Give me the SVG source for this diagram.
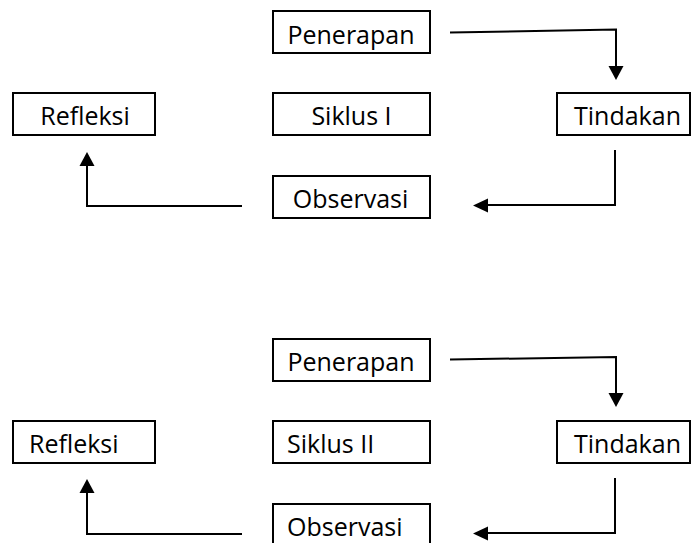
<svg xmlns="http://www.w3.org/2000/svg" width="691" height="543" viewBox="0 0 691 543">
<style>
.box{fill:#fff;stroke:#000;stroke-width:2}
.lbl{font-family:"Open Sans","Noto Sans",sans-serif;font-size:25px;fill:#000}
.c{text-anchor:middle}
.ln{fill:none;stroke:#000;stroke-width:2}
.ah{fill:#000}
</style>
<rect width="691" height="543" fill="#fff"/>
<g id="cycle1">
<g id="penerapan1"><rect class="box" x="273" y="11" width="157" height="42"/><text class="lbl c" x="351" y="44">Penerapan</text></g>
<g id="refleksi1"><rect class="box" x="13" y="93" width="142" height="42"/><text class="lbl c" x="85" y="125">Refleksi</text></g>
<g id="siklus1"><rect class="box" x="273" y="93" width="157" height="42"/><text class="lbl c" x="351.5" y="125">Siklus I</text></g>
<g id="tindakan1"><rect class="box" x="557" y="93" width="133" height="42"/><text class="lbl c" x="627.5" y="125">Tindakan</text></g>
<g id="observasi1"><rect class="box" x="273" y="176" width="157" height="42"/><text class="lbl c" x="350.5" y="208">Observasi</text></g>
</g>
<g id="cycle2">
<g id="penerapan2"><rect class="box" x="273" y="339" width="157" height="42"/><text class="lbl c" x="351" y="371">Penerapan</text></g>
<g id="refleksi2"><rect class="box" x="13" y="421" width="142" height="42"/><text class="lbl" x="29" y="453">Refleksi</text></g>
<g id="siklus2"><rect class="box" x="273" y="421" width="157" height="42"/><text class="lbl" x="287" y="453">Siklus II</text></g>
<g id="tindakan2"><rect class="box" x="557" y="421" width="133" height="42"/><text class="lbl c" x="627.5" y="453">Tindakan</text></g>
<g id="observasi2"><rect class="box" x="273" y="504" width="157" height="42"/><text class="lbl" x="287" y="536">Observasi</text></g>
</g>
<g id="connectors">
<polyline class="ln" points="450,32.5 616,29.5 616,68"/>
<polygon class="ah" points="608.5,66 623.5,66 616,80"/>
<polyline class="ln" points="615,150 615,205 486,205"/>
<polygon class="ah" points="488,198.5 488,212.5 473,205.5"/>
<polyline class="ln" points="242,206 87,206 87,164"/>
<polygon class="ah" points="79.5,166 94.5,166 87,152"/>
<polyline class="ln" points="450,359.5 616,357 616,395"/>
<polygon class="ah" points="608.5,393 623.5,393 616,407"/>
<polyline class="ln" points="615,478 615,533 486,533"/>
<polygon class="ah" points="488,526.5 488,540.5 473,533.5"/>
<polyline class="ln" points="242,534 87,534 87,491"/>
<polygon class="ah" points="79.5,493 94.5,493 87,479"/>
</g>
</svg>
